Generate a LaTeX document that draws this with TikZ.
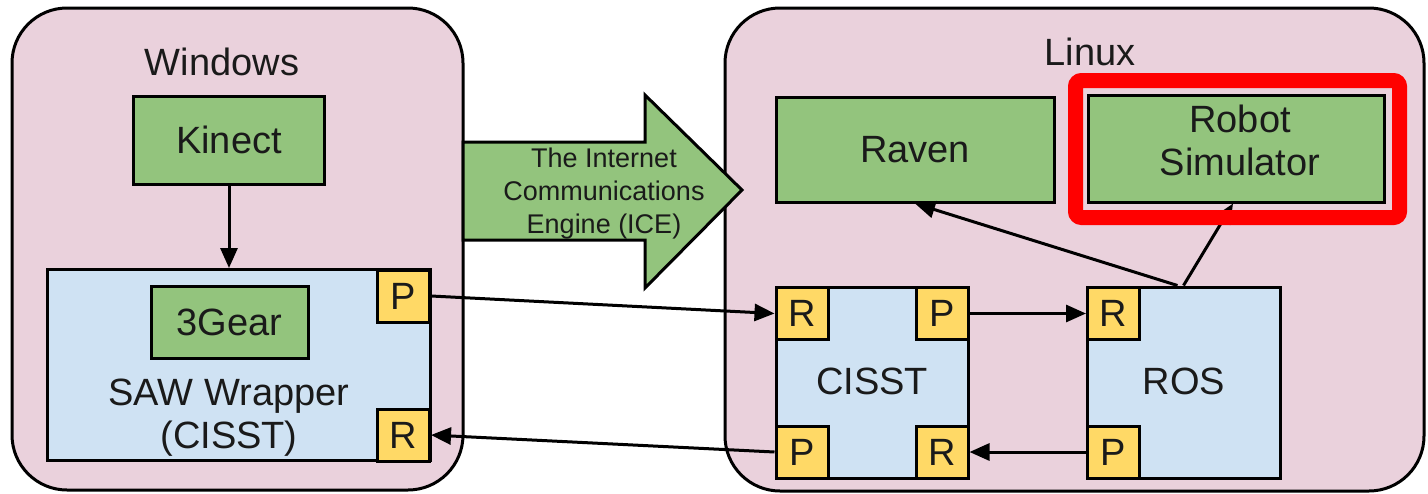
\documentclass[tikz,border=0pt]{standalone}
\usepackage{fontspec}
\setmainfont{Liberation Sans}
\usetikzlibrary{arrows.meta,calc}
\definecolor{pinkbg}{HTML}{EAD1DC}
\definecolor{bluebg}{HTML}{CFE2F3}
\definecolor{greenbg}{HTML}{93C47D}
\definecolor{yellowbg}{HTML}{FFD966}
\definecolor{txt}{HTML}{1A1A1A}
\tikzset{
  osbox/.style={draw=black, line width=3pt, fill=pinkbg, rounded corners=55pt},
  greenbox/.style={draw=black, line width=3pt, fill=greenbg, inner sep=0pt, align=center, text=txt, font=\fontsize{38}{42}\selectfont},
  bluebox/.style={draw=black, line width=3pt, fill=bluebg, inner sep=0pt},
  port/.style={draw=black, line width=3pt, fill=yellowbg, inner sep=0pt, minimum width=52pt, minimum height=52pt, text=txt, font=\fontsize{38}{44}\selectfont},
  lbl/.style={text=txt, font=\fontsize{38}{43}\selectfont, align=center, inner sep=0pt},
  arr/.style={draw=black, line width=3pt, -{Triangle[length=20pt,width=17pt]}},
}
\begin{document}
\begin{tikzpicture}[x=1pt,y=-1pt]
\useasboundingbox (0,0) rectangle (1428,493);
% OS containers
\draw[osbox] (12,8) rectangle (463,490);
\draw[osbox] (725,8) rectangle (1424,491);
\node[lbl] (win) at (222,62) {Windows};
\node[lbl] (lin) at (1090,52) {Linux};
% ICE arrow
\draw[draw=black, line width=3pt, fill=greenbg, line join=miter]
  (463,142) -- (645,142) -- (645,95) -- (742,190) -- (645,288) -- (645,240) -- (463,240) -- cycle;
\node[text=txt, font=\fontsize{27}{33}\selectfont, align=center, inner sep=0pt] (ice) at (604,194)
  {The Internet\\Communications\\Engine (ICE)};
% Windows side
\node[greenbox, minimum width=191pt, minimum height=88pt] (kinect) at (229,140) {Kinect};
\node[bluebox, minimum width=383pt, minimum height=191pt] (saw) at (238.5,365) {};
\node[greenbox, minimum width=157pt, minimum height=72pt] (gear) at (229.5,322) {3Gear};
\node[lbl] (sawtxt) at (229,418) {SAW Wrapper\\(CISST)};
\node[port] (sawP) at (403.5,296) {P};
\node[port] (sawR) at (403.5,435) {R};
% Linux side
\node[greenbox, minimum width=278pt, minimum height=105pt] (raven) at (915,149.5) {Raven};
\node[greenbox, minimum width=296pt, minimum height=107pt] (robot) at (1236,148.5) {};
\node[lbl] (robottxt) at (1240,140) {Robot\\Simulator};
\node[bluebox, minimum width=192pt, minimum height=191pt] (cisst) at (872,382.5) {};
\node[lbl] (cisstxt) at (872,381) {CISST};
\node[port] (cR) at (802,313.5) {R};
\node[port] (cP) at (942,313.5) {P};
\node[port] (cP2) at (802,452) {P};
\node[port] (cR2) at (942,452) {R};
\node[bluebox, minimum width=193pt, minimum height=191pt] (ros) at (1183.5,382.5) {};
\node[lbl] (rostxt) at (1184,381) {ROS};
\node[port] (rR) at (1113.5,313.5) {R};
\node[port] (rP) at (1113.5,452) {P};
% connectors
\draw[arr] (kinect.south) -- (kinect.south |- saw.north);
\draw[arr] (sawP.east) -- (cR.west);
\draw[arr] (cP2.west) -- (sawR.east);
\draw[arr] (cP.east) -- (rR.west);
\draw[arr] (rP.west) -- (cR2.east);
\draw[arr] ($(ros.north)+(-6,0)$) -- (raven.south);
\draw[arr] (ros.north) -- ($(robot.south)+(-3,0)$);
% highlight
\draw[red, line width=15pt, rounded corners=6pt] (1075.5,80.5) rectangle (1399.5,217.5);
\end{tikzpicture}
\end{document}
